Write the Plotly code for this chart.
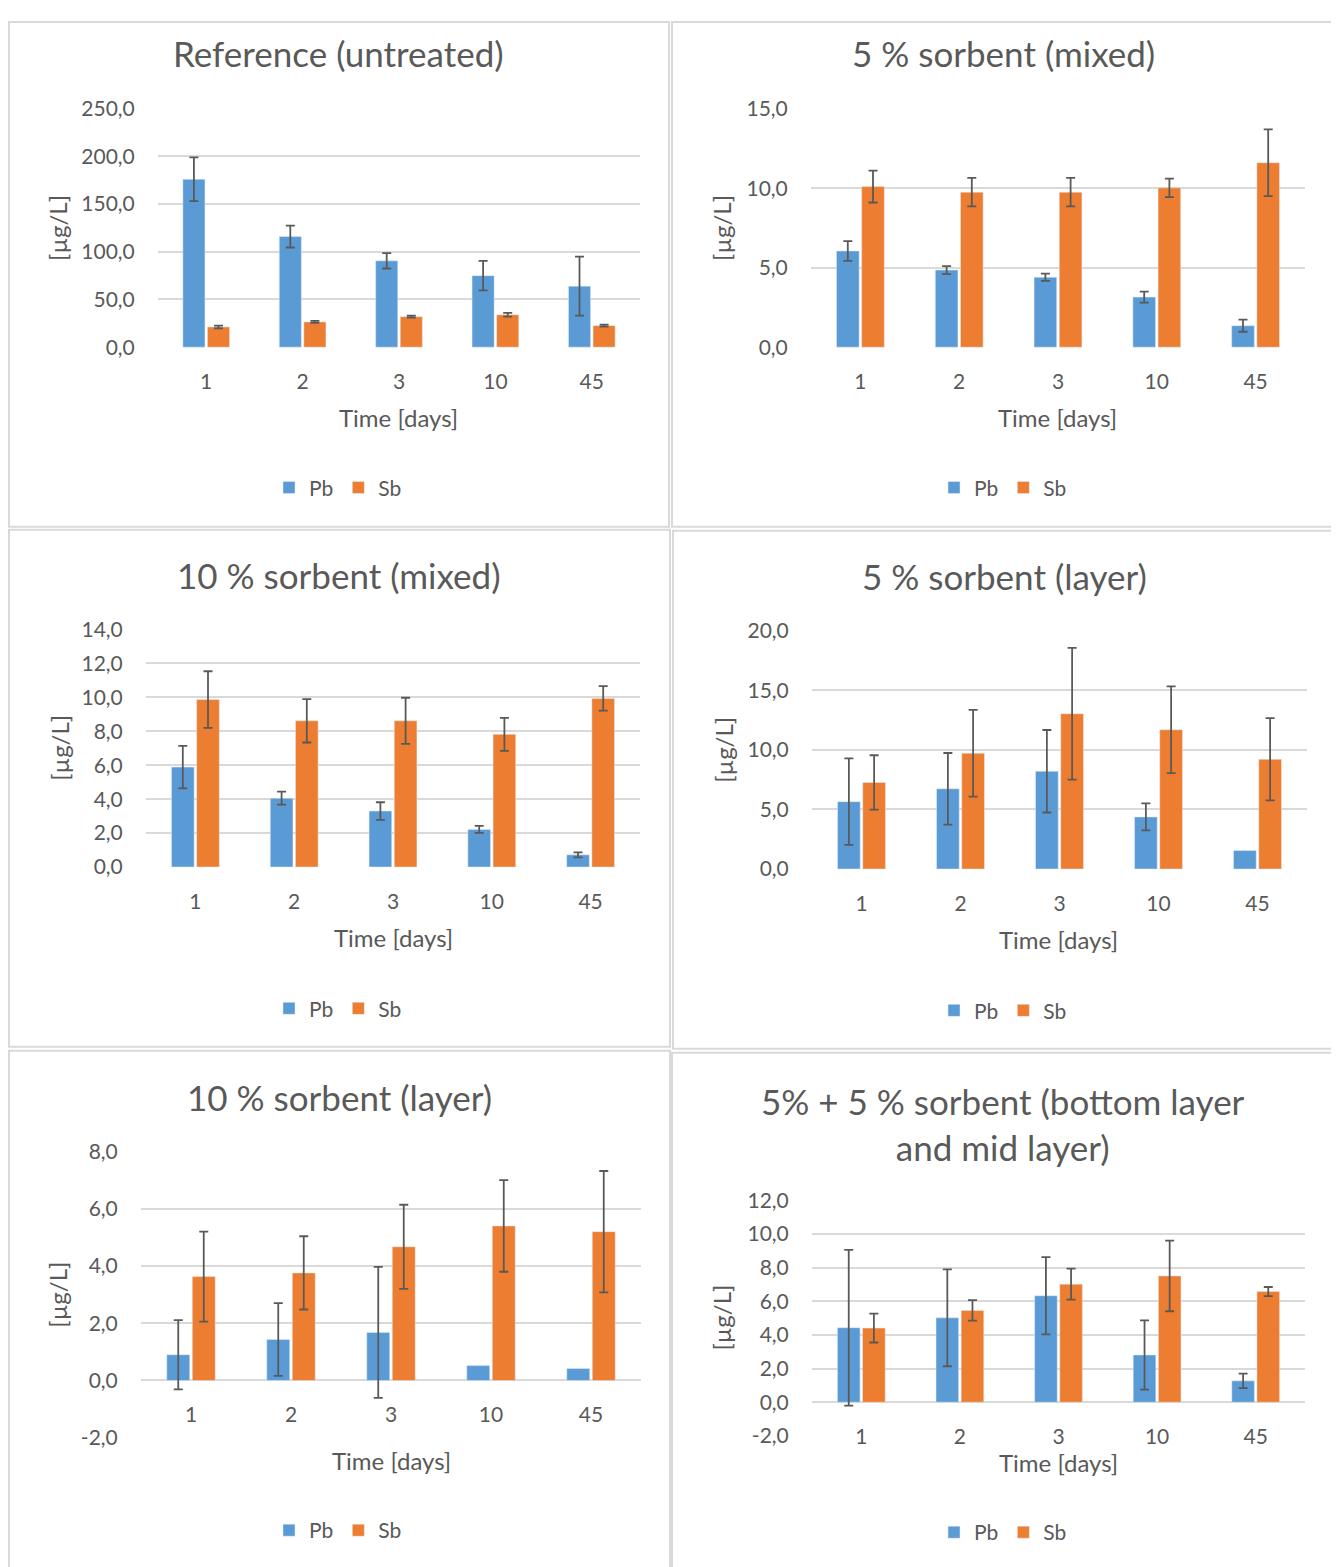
import plotly.graph_objects as go

# The photographed page puts the figure 8 px in from the left and, measured on
# the returned pictures, maps figure y to picture y as 0.985 * y + 21.
# Reference pixel positions are converted with px_x / px_y below.
OFF_X = 8
OFF_Y = 21
SCALE_Y = 0.985
W = 1339 - OFF_X
H = 1570

# ---- data ----
days = ["1", "2", "3", "10", "45"]

titles = [
    "Reference (untreated)",
    "5 % sorbent (mixed)",
    "10 % sorbent (mixed)",
    "5 % sorbent (layer)",
    "10 % sorbent (layer)",
    "5% + 5 % sorbent (bottom layer<br>and mid layer)",
]

ref_pb = [176.0, 116.0, 90.5, 75.0, 64.0]
ref_pb_err = [23.0, 11.5, 8.0, 15.5, 31.0]
ref_sb = [21.2, 26.5, 32.0, 34.0, 22.6]
ref_sb_err = [1.5, 1.0, 1.0, 2.0, 1.0]

mix5_pb = [6.05, 4.85, 4.40, 3.15, 1.35]
mix5_pb_err = [0.62, 0.25, 0.23, 0.35, 0.38]
mix5_sb = [10.1, 9.75, 9.75, 10.02, 11.6]
mix5_sb_err = [1.0, 0.9, 0.9, 0.58, 2.1]

mix10_pb = [5.89, 4.06, 3.30, 2.22, 0.72]
mix10_pb_err = [1.25, 0.38, 0.52, 0.21, 0.15]
mix10_sb = [9.87, 8.62, 8.62, 7.82, 9.94]
mix10_sb_err = [1.67, 1.28, 1.36, 0.97, 0.72]

lay5_pb = [5.65, 6.73, 8.2, 4.37, 1.56]
lay5_pb_err = [3.63, 3.0, 3.46, 1.13, None]
lay5_sb = [7.26, 9.71, 13.02, 11.68, 9.2]
lay5_sb_err = [2.28, 3.63, 5.52, 3.64, 3.45]

lay10_pb = [0.90, 1.43, 1.68, 0.52, 0.42]
lay10_pb_err = [1.21, 1.27, 2.29, None, None]
lay10_sb = [3.63, 3.76, 4.67, 5.40, 5.20]
lay10_sb_err = [1.57, 1.28, 1.47, 1.60, 2.12]

dbl_pb = [4.43, 5.02, 6.33, 2.81, 1.27]
dbl_pb_err = [4.63, 2.88, 2.30, 2.06, 0.43]
dbl_sb = [4.41, 5.46, 7.02, 7.51, 6.58]
dbl_sb_err = [0.86, 0.61, 0.92, 2.10, 0.27]

series = [
    (ref_pb, ref_pb_err, ref_sb, ref_sb_err),
    (mix5_pb, mix5_pb_err, mix5_sb, mix5_sb_err),
    (mix10_pb, mix10_pb_err, mix10_sb, mix10_sb_err),
    (lay5_pb, lay5_pb_err, lay5_sb, lay5_sb_err),
    (lay10_pb, lay10_pb_err, lay10_sb, lay10_sb_err),
    (dbl_pb, dbl_pb_err, dbl_sb, dbl_sb_err),
]

y_ticks = [
    [0, 50, 100, 150, 200, 250],
    [0, 5, 10, 15],
    [0, 2, 4, 6, 8, 10, 12, 14],
    [0, 5, 10, 15, 20],
    [-2, 0, 2, 4, 6, 8],
    [-2, 0, 2, 4, 6, 8, 10, 12],
]

# ---- layout, in reference pixels ----
# plot area: x0, x1, y_top, y_bottom
plot_px = [
    (158, 640, 108, 348),
    (811, 1305, 108, 348),
    (146, 640, 629, 868),
    (812, 1307, 630, 870),
    (141, 641, 1151, 1439),
    (812, 1305, 1200, 1437),
]
panel_px = [
    (7, 22, 669, 527),
    (672, 22, 1333, 527),
    (9, 530, 670, 1047),
    (673, 531, 1335, 1049),
    (9, 1051, 670, 1580),
    (672, 1053, 1335, 1580),
]
title_px = [(338, 53), (1003, 53), (339, 575), (1004, 576), (339, 1097), (1003, 1124)]
xtitle_px = [(398, 418), (1057, 418), (393, 938), (1058, 940), (391, 1461), (1058, 1463)]
ytitle_px = [(58, 228), (722, 228), (60, 748), (724, 750), (58, 1295), (722, 1318)]
legend_px = [(338, 488), (1003, 488), (338, 1009), (1003, 1011), (338, 1531), (1003, 1533)]

PB = "#5B9BD5"
SB = "#ED7D31"
TXT = "#595959"
GRID = "#D9D9D9"
FONT = "Lato"


def px_x(v):
    return min(max(v - OFF_X, 1), W - 1) / W


def px_y(v):
    return 1 - (v - OFF_Y) / SCALE_Y / H


def fmt(v):
    return f"{v:.1f}".replace(".", ",")


fig = go.Figure()
annotations = []
shapes = []
layout = {}

for i in range(6):
    k = "" if i == 0 else str(i + 1)
    leg = "legend" + k
    pb, pb_err, sb, sb_err = series[i]
    for name, vals, errs, col in (("Pb", pb, pb_err, PB), ("Sb", sb, sb_err, SB)):
        with_err = [j for j in range(len(days)) if errs[j] is not None]
        no_err = [j for j in range(len(days)) if errs[j] is None]
        fig.add_trace(
            go.Bar(
                x=[days[j] for j in with_err],
                y=[vals[j] for j in with_err],
                name=name,
                marker=dict(color=col),
                error_y=dict(type="data", array=[errs[j] for j in with_err],
                             color="#595959", thickness=1.8, width=4.5),
                offsetgroup=name,
                xaxis="x" + k,
                yaxis="y" + k,
                legend=leg,
            )
        )
        if no_err:
            # bars drawn without an error bar
            fig.add_trace(
                go.Bar(
                    x=[days[j] for j in no_err],
                    y=[vals[j] for j in no_err],
                    name=name,
                    marker=dict(color=col),
                    offsetgroup=name,
                    showlegend=False,
                    xaxis="x" + k,
                    yaxis="y" + k,
                    legend=leg,
                )
            )

    x0, x1, yt, yb = plot_px[i]
    ticks = y_ticks[i]
    lo, hi = ticks[0], ticks[-1]
    span = hi - lo
    ydom = [px_y(yb), px_y(yt)]
    xaxis = dict(
        domain=[px_x(x0), px_x(x1)],
        type="category",
        categoryorder="array",
        categoryarray=days,
        showgrid=False,
        showline=False,
        zeroline=False,
        ticks="outside",
        ticklen=15,
        tickcolor="rgba(0,0,0,0)",
        tickfont=dict(family=FONT, size=21, color=TXT),
    )
    if lo < 0:
        # category axis sits on y = 0, as in the spreadsheet chart
        xaxis.update(anchor="free", position=ydom[0] + (0 - lo) / span * (ydom[1] - ydom[0]))
    else:
        xaxis.update(anchor="y" + k)
    yaxis = dict(
        domain=ydom,
        anchor="x" + k,
        range=[lo - 0.003 * span, hi + 0.003 * span],
        tickvals=ticks,
        ticktext=[fmt(v) for v in ticks],
        showgrid=True,
        gridcolor=GRID,
        gridwidth=1.5,
        zeroline=False,
        showline=False,
        ticks="outside",
        ticklen=18,
        tickcolor="rgba(0,0,0,0)",
        tickfont=dict(family=FONT, size=21, color=TXT),
    )
    layout["xaxis" + k] = xaxis
    layout["yaxis" + k] = yaxis

    lx, ly = legend_px[i]
    layout[leg] = dict(
        x=px_x(lx),
        y=px_y(ly),
        xanchor="center",
        yanchor="middle",
        orientation="h",
        font=dict(family=FONT, size=21, color=TXT),
        itemwidth=30,
        bgcolor="rgba(0,0,0,0)",
    )

    tx, ty = title_px[i]
    annotations.append(dict(
        x=px_x(tx), y=px_y(ty), xref="paper", yref="paper", text=titles[i],
        showarrow=False, xanchor="center", yanchor="middle",
        font=dict(family=FONT, size=35, color=TXT),
    ))
    tx, ty = xtitle_px[i]
    annotations.append(dict(
        x=px_x(tx), y=px_y(ty), xref="paper", yref="paper", text="Time [days]",
        showarrow=False, xanchor="center", yanchor="middle",
        font=dict(family=FONT, size=24, color=TXT),
    ))
    tx, ty = ytitle_px[i]
    annotations.append(dict(
        x=px_x(tx), y=px_y(ty), xref="paper", yref="paper", text="[µg/L]",
        showarrow=False, xanchor="center", yanchor="middle", textangle=-90,
        font=dict(family=FONT, size=24, color=TXT),
    ))

    bx0, by0, bx1, by1 = panel_px[i]
    shapes.append(dict(
        type="rect", xref="paper", yref="paper",
        x0=px_x(bx0), x1=px_x(bx1), y0=px_y(by1), y1=px_y(by0),
        line=dict(color=GRID, width=2), fillcolor="rgba(0,0,0,0)", layer="below",
    ))

fig.update_layout(
    width=W,
    height=H,
    autosize=False,
    margin=dict(l=0, r=0, t=0, b=0),
    paper_bgcolor="white",
    plot_bgcolor="white",
    barmode="group",
    bargap=0.49,
    bargroupgap=0.1,
    font=dict(family=FONT, color=TXT),
    annotations=annotations,
    shapes=shapes,
    **layout,
)

fig.write_html("out.html")
